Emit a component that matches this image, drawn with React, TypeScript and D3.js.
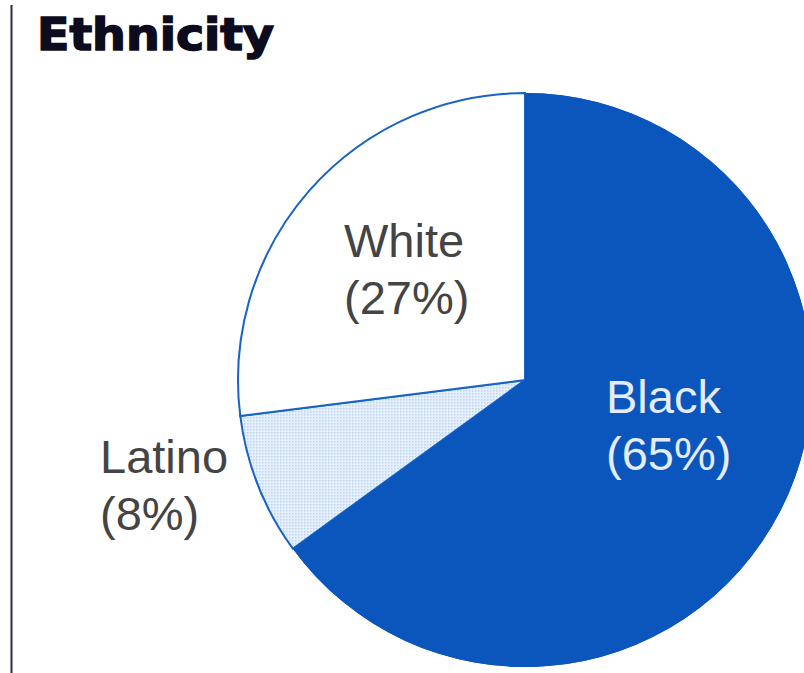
import React from "react";
import * as d3 from "d3";

const categories = ["Black", "Latino", "White"];
const values = [65, 8, 27];
const labelLines = [
  ["Black", "(65%)"],
  ["Latino", "(8%)"],
  ["White", "(27%)"],
];
const title = "Ethnicity";

const W = 804;
const H = 673;
const cx = 525;
const cy = 380;
const R = 287;

const fills = ["#0a56bd", "url(#dots)", "#ffffff"];
const labelPos: [number, number, string][] = [
  [606, 413, "#e3ecf8"],
  [100, 473, "#444444"],
  [344, 257, "#444444"],
];

export default function App() {
  const pie = d3
    .pie<number>()
    .sort(null)
    .value((d) => d);
  const arcs = pie(values);
  const arc = d3.arc<d3.PieArcDatum<number>>().innerRadius(0).outerRadius(R);

  return (
    <svg
      width={W}
      height={H}
      style={{ position: "absolute", left: 0, top: 0, background: "#fff" }}
    >
      <defs>
        <pattern id="dots" width="3" height="3" patternUnits="userSpaceOnUse">
          <rect width="3" height="3" fill="#e6f0fc" />
          <rect x="1" y="1" width="1.5" height="1.5" fill="#bcd4f2" />
        </pattern>
      </defs>
      <rect width={W} height={H} fill="#fff" />
      <line x1={11.5} y1={5} x2={11.5} y2={H} stroke="#2a2a55" strokeWidth={2} />
      <text
        x={37}
        y={50}
        fontFamily="DejaVu Sans"
        fontWeight="bold"
        fontSize={45}
        textLength={237}
        lengthAdjust="spacingAndGlyphs"
        fill="#0c0c1e"
        stroke="#0c0c1e"
        strokeWidth={1.6}
      >
        {title}
      </text>
      <g transform={`translate(${cx},${cy})`}>
        {arcs.map((a, i) => (
          <path
            key={categories[i]}
            d={arc(a) || ""}
            fill={fills[i]}
            stroke="#1763c6"
            strokeWidth={i === 0 ? 0 : 2}
          />
        ))}
        <path d={arc(arcs[0]) || ""} fill={fills[0]} />
      </g>
      {labelLines.map((lines, i) => (
        <text
          key={categories[i]}
          x={labelPos[i][0]}
          y={labelPos[i][1]}
          fontFamily="Liberation Sans, Arial, sans-serif"
          fontSize={47}
          fill={labelPos[i][2]}
        >
          {lines.map((l, j) => (
            <tspan key={j} x={labelPos[i][0]} dy={j === 0 ? 0 : 57}>
              {l}
            </tspan>
          ))}
        </text>
      ))}
    </svg>
  );
}
